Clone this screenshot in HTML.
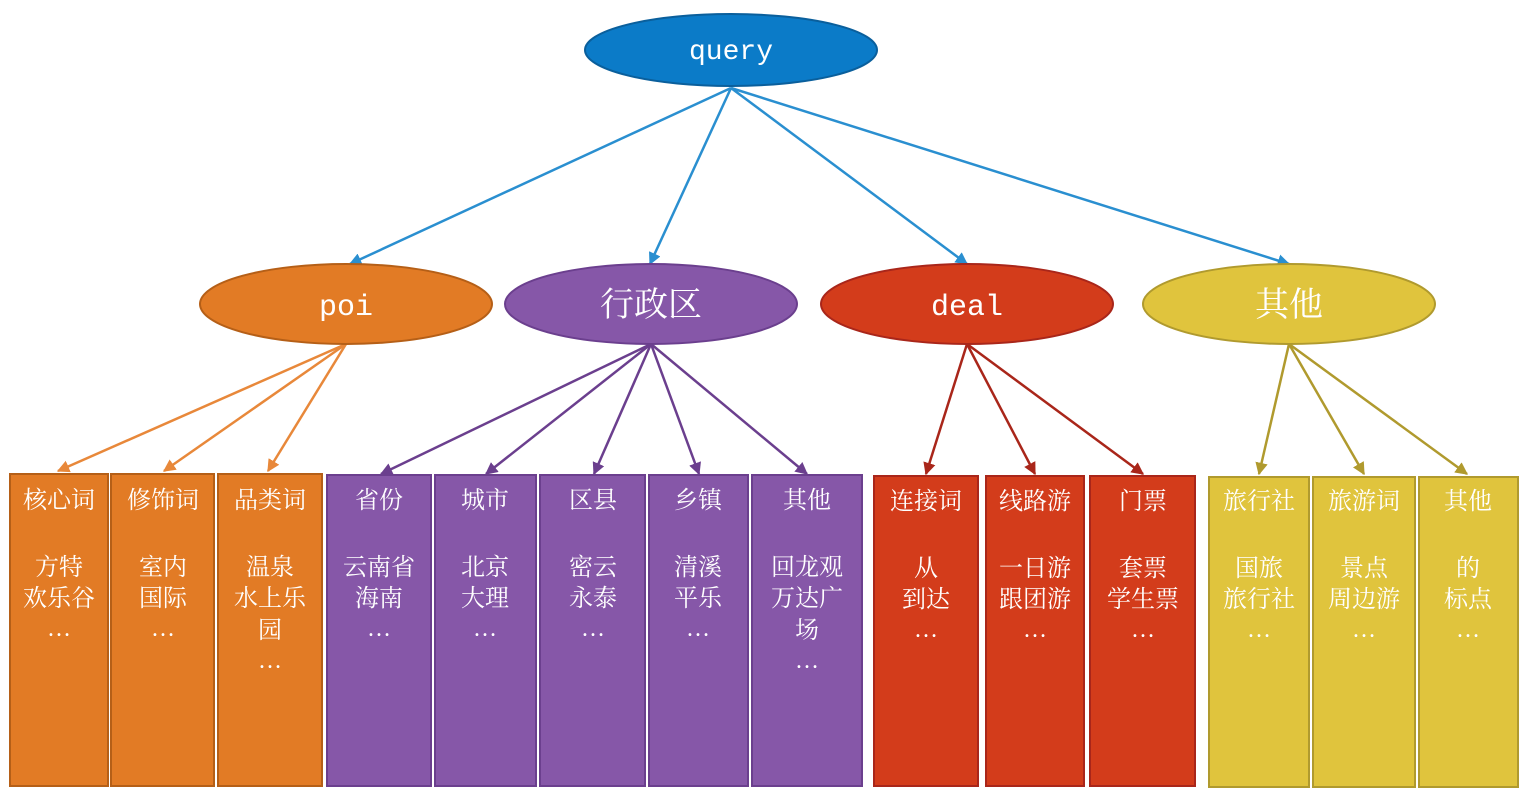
<!DOCTYPE html>
<html><head><meta charset="utf-8"><style>
body{margin:0;background:#fff;width:1530px;height:794px;overflow:hidden;}
svg text{font-family:"Liberation Serif","Noto Serif CJK SC","Noto Sans CJK SC",serif;}
</style></head><body>
<svg width="1530" height="794" viewBox="0 0 1530 794" xmlns="http://www.w3.org/2000/svg">
<defs>
<marker id="ab" viewBox="0 0 10 10" refX="9" refY="5" markerWidth="5" markerHeight="5" orient="auto"><path d="M0,0L10,5L0,10z" fill="#2a8fd0"/></marker>
<marker id="ao" viewBox="0 0 10 10" refX="9" refY="5" markerWidth="5" markerHeight="5" orient="auto"><path d="M0,0L10,5L0,10z" fill="#e8883a"/></marker>
<marker id="ap" viewBox="0 0 10 10" refX="9" refY="5" markerWidth="5" markerHeight="5" orient="auto"><path d="M0,0L10,5L0,10z" fill="#6b3f8e"/></marker>
<marker id="ar" viewBox="0 0 10 10" refX="9" refY="5" markerWidth="5" markerHeight="5" orient="auto"><path d="M0,0L10,5L0,10z" fill="#a9261a"/></marker>
<marker id="ay" viewBox="0 0 10 10" refX="9" refY="5" markerWidth="5" markerHeight="5" orient="auto"><path d="M0,0L10,5L0,10z" fill="#b09a2e"/></marker>
</defs>
<g stroke="#2a8fd0" stroke-width="2.5" marker-end="url(#ab)">
<line x1="731" y1="88" x2="350" y2="264"/><line x1="731" y1="88" x2="650" y2="264"/>
<line x1="731" y1="88" x2="967" y2="264"/><line x1="731" y1="88" x2="1289" y2="264"/>
</g>
<g stroke="#e8883a" stroke-width="2.5" marker-end="url(#ao)">
<line x1="346" y1="344" x2="58" y2="471"/><line x1="346" y1="344" x2="164" y2="471"/><line x1="346" y1="344" x2="268" y2="471"/>
</g>
<g stroke="#6b3f8e" stroke-width="2.5" marker-end="url(#ap)">
<line x1="651" y1="344" x2="381" y2="474"/><line x1="651" y1="344" x2="486" y2="474"/><line x1="651" y1="344" x2="594" y2="474"/><line x1="651" y1="344" x2="699" y2="474"/><line x1="651" y1="344" x2="807" y2="474"/>
</g>
<g stroke="#a9261a" stroke-width="2.5" marker-end="url(#ar)">
<line x1="967" y1="344" x2="926" y2="474"/><line x1="967" y1="344" x2="1035" y2="474"/><line x1="967" y1="344" x2="1143" y2="474"/>
</g>
<g stroke="#b09a2e" stroke-width="2.5" marker-end="url(#ay)">
<line x1="1289" y1="344" x2="1259" y2="474"/><line x1="1289" y1="344" x2="1364" y2="474"/><line x1="1289" y1="344" x2="1467" y2="474"/>
</g>
<ellipse cx="731" cy="50" rx="146" ry="36" fill="#0b7bc8" stroke="#0a5f9c" stroke-width="2"/>
<text x="731" y="59" font-size="28" fill="#fff" text-anchor="middle" style="font-family:'Liberation Mono',monospace">query</text>
<ellipse cx="346" cy="304" rx="146" ry="40" fill="#e27b25" stroke="#b55f17" stroke-width="2"/>
<text x="346" y="315" font-size="30" fill="#fff" text-anchor="middle" style="font-family:'Liberation Mono',monospace">poi</text>
<ellipse cx="651" cy="304" rx="146" ry="40" fill="#8657a8" stroke="#6b3f8e" stroke-width="2"/>
<text x="651" y="316" font-size="34" fill="#fff" text-anchor="middle">行政区</text>
<ellipse cx="967" cy="304" rx="146" ry="40" fill="#d33c1b" stroke="#a9261a" stroke-width="2"/>
<text x="967" y="315" font-size="30" fill="#fff" text-anchor="middle" style="font-family:'Liberation Mono',monospace">deal</text>
<ellipse cx="1289" cy="304" rx="146" ry="40" fill="#e0c43d" stroke="#b09a2e" stroke-width="2"/>
<text x="1289" y="316" font-size="34" fill="#fff" text-anchor="middle">其他</text>
<g font-size="24" fill="#fff" text-anchor="middle">
<!-- orange -->
<g fill="#e27b25" stroke="#b55f17" stroke-width="2">
<rect x="10" y="474" width="98" height="312"/><rect x="111" y="474" width="103" height="312"/><rect x="218" y="474" width="104" height="312"/></g>
<g fill="#8657a8" stroke="#6b3f8e" stroke-width="2">
<rect x="327" y="475" width="104" height="311"/><rect x="435" y="475" width="101" height="311"/><rect x="540" y="475" width="105" height="311"/><rect x="649" y="475" width="99" height="311"/><rect x="752" y="475" width="110" height="311"/></g>
<g fill="#d33c1b" stroke="#a9261a" stroke-width="2">
<rect x="874" y="476" width="104" height="310"/><rect x="986" y="476" width="98" height="310"/><rect x="1090" y="476" width="105" height="310"/></g>
<g fill="#e0c43d" stroke="#b09a2e" stroke-width="2">
<rect x="1209" y="477" width="100" height="310"/><rect x="1313" y="477" width="102" height="310"/><rect x="1419" y="477" width="99" height="310"/></g>
<g fill="#fff">
<text x="59" y="508">核心词</text><text x="59" y="575">方特</text><text x="59" y="606">欢乐谷</text><text x="59" y="636">…</text>
<text x="163" y="508">修饰词</text><text x="163" y="575">室内</text><text x="163" y="606">国际</text><text x="163" y="636">…</text>
<text x="270" y="508">品类词</text><text x="270" y="575">温泉</text><text x="270" y="606">水上乐</text><text x="270" y="638">园</text><text x="270" y="668">…</text>
<text x="379" y="508">省份</text><text x="379" y="575">云南省</text><text x="379" y="606">海南</text><text x="379" y="636">…</text>
<text x="485" y="508">城市</text><text x="485" y="575">北京</text><text x="485" y="606">大理</text><text x="485" y="636">…</text>
<text x="593" y="508">区县</text><text x="593" y="575">密云</text><text x="593" y="606">永泰</text><text x="593" y="636">…</text>
<text x="698" y="508">乡镇</text><text x="698" y="575">清溪</text><text x="698" y="606">平乐</text><text x="698" y="636">…</text>
<text x="807" y="508">其他</text><text x="807" y="575">回龙观</text><text x="807" y="606">万达广</text><text x="807" y="638">场</text><text x="807" y="668">…</text>
<text x="926" y="509">连接词</text><text x="926" y="576">从</text><text x="926" y="607">到达</text><text x="926" y="637">…</text>
<text x="1035" y="509">线路游</text><text x="1035" y="576">一日游</text><text x="1035" y="607">跟团游</text><text x="1035" y="637">…</text>
<text x="1143" y="509">门票</text><text x="1143" y="576">套票</text><text x="1143" y="607">学生票</text><text x="1143" y="637">…</text>
<text x="1259" y="509">旅行社</text><text x="1259" y="576">国旅</text><text x="1259" y="607">旅行社</text><text x="1259" y="637">…</text>
<text x="1364" y="509">旅游词</text><text x="1364" y="576">景点</text><text x="1364" y="607">周边游</text><text x="1364" y="637">…</text>
<text x="1468" y="509">其他</text><text x="1468" y="576">的</text><text x="1468" y="607">标点</text><text x="1468" y="637">…</text>
</g>
</g>
</svg>
</body></html>
